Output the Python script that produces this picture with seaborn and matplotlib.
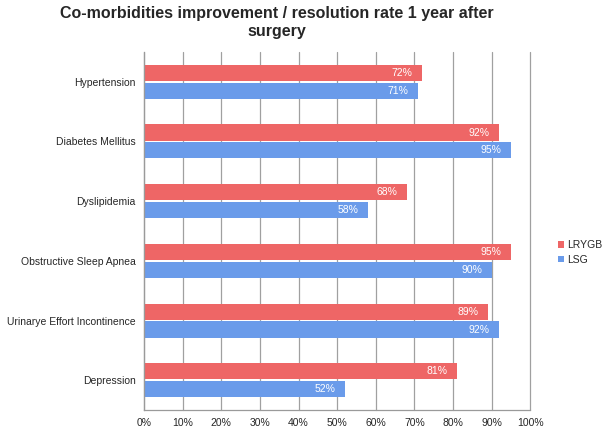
import seaborn as sns
import pandas as pd
import matplotlib.pyplot as plt

categories = ["Hypertension", "Diabetes Mellitus", "Dyslipidemia",
              "Obstructive Sleep Apnea", "Urinarye Effort Incontinence", "Depression"]
lrygb = [72, 92, 68, 95, 89, 81]
lsg = [71, 95, 58, 90, 92, 52]
groups = ["LRYGB", "LSG"]
colors = ["#EE6666", "#6A9BEA"]

df = pd.DataFrame({
    "cat": categories * 2,
    "val": lrygb + lsg,
    "grp": ["LRYGB"] * len(categories) + ["LSG"] * len(categories),
})

sns.set_style("white")
plt.rcParams['font.family'] = ['Liberation Sans', 'DejaVu Sans']

fig = plt.figure(figsize=(6.08, 4.29), dpi=100)
ax = fig.add_axes([0.237, 0.044, 0.635, 0.835])

sns.barplot(data=df, y="cat", x="val", hue="grp", hue_order=groups,
            palette=colors, saturation=1, orient="h", width=0.6, gap=0.1,
            ax=ax, edgecolor="none", legend=True)

for cont in ax.containers:
    ax.bar_label(cont, labels=[f"{v:.0f}%" for v in cont.datavalues],
                 padding=-22, color="white", fontsize=7.5)

ax.set_xlim(0, 100)
ax.set_ylim(5.5, -0.5)
ax.set_xticks(range(0, 101, 10))
ax.set_xticklabels([f"{t}%" for t in range(0, 101, 10)], fontsize=7.5)
ax.tick_params(axis="y", labelsize=7.5, length=0, pad=6)
ax.tick_params(axis="x", length=0, pad=6)
ax.xaxis.grid(True, color="#a0a0a0", linewidth=0.9)
for gl in ax.get_xgridlines():
    gl.set_clip_on(False)
ax.set_axisbelow(True)
for s in ["top", "right"]:
    ax.spines[s].set_visible(False)
for s in ["left", "bottom"]:
    ax.spines[s].set_color("#9a9a9a")
    ax.spines[s].set_linewidth(0.9)
ax.set_xlabel("")
ax.set_ylabel("")

ax.legend(loc="center left", bbox_to_anchor=(1.06, 0.44), frameon=False,
          fontsize=7.5, handlelength=0.6, handleheight=0.6, handletextpad=0.3,
          labelspacing=0.4, borderaxespad=0.0)

fig.text(0.455, 0.985, "Co-morbidities improvement / resolution rate 1 year after\nsurgery",
         ha="center", va="top", fontsize=11.5, fontweight="bold", linespacing=1.2)

fig.savefig("out.png", dpi=100)
